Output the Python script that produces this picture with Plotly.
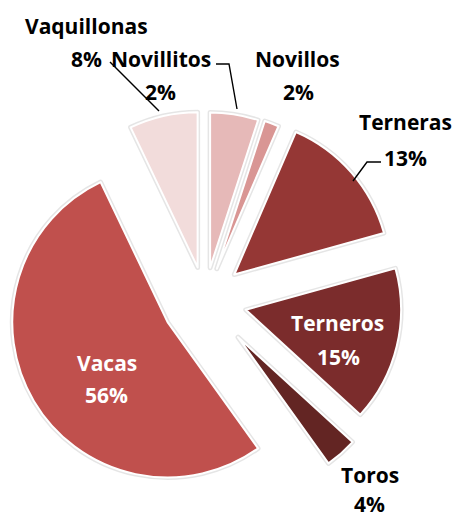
import plotly.graph_objects as go

# ---- data ----
categories = ["Novillitos", "Novillos", "Terneras", "Terneros", "Toros", "Vacas", "Vaquillonas"]
# slice shares as drawn
shares = [5.0, 1.5, 14.2, 16.1, 3.3, 52.8, 7.1]
# percentage labels printed on the chart
pct_labels = ["2%", "2%", "13%", "15%", "4%", "56%", "8%"]

# ---- styling ----
colors = ["#E6B9B8", "#D99694", "#953735", "#7B2C2C", "#632523", "#C0504D", "#F2DCDB"]
pulls = [0.21, 0.215, 0.25, 0.27, 0.32, 0.28, 0.215]

W, H = 456, 517


def px(x):
    return x / W


def py(y):
    return 1 - y / H


dom = dict(x=[0, 410 / W], y=[1 - 515 / H, 1 - 85 / H])

common = dict(
    labels=categories, values=shares, sort=False, direction="clockwise",
    rotation=0, pull=pulls, textinfo="none", hoverinfo="skip",
    showlegend=False, domain=dom,
)

fig = go.Figure()
# soft shadow outline behind the slices
fig.add_trace(go.Pie(marker=dict(colors=colors, line=dict(color="rgba(0,0,0,0.10)", width=5)), **common))
fig.add_trace(go.Pie(marker=dict(colors=colors, line=dict(color="white", width=2)), **common))

# label placement (pixel centres of name line and percent line)
label_pos = {
    "Vaquillonas": ((86, 26), (86, 59)),
    "Novillitos": ((161, 59), (160, 92)),
    "Novillos": ((297, 59), (298, 92)),
    "Terneras": ((405, 122), (405, 158)),
    "Terneros": ((337, 323), (338, 357)),
    "Toros": ((370, 475), (369, 504)),
    "Vacas": ((107, 363), (106, 395)),
}
inside = {"Terneros", "Vacas"}
font_family = "Open Sans"
annotations = []
for cat, pct in zip(categories, pct_labels):
    (nx, ny), (vx, vy) = label_pos[cat]
    col = "white" if cat in inside else "black"
    for txt, (x, y) in ((cat, (nx, ny)), (pct, (vx, vy))):
        annotations.append(
            dict(
                text=txt, x=px(x), y=py(y), xref="paper", yref="paper",
                xanchor="center", yanchor="middle", showarrow=False,
                font=dict(family=font_family, size=21, color=col, weight="bold"),
            )
        )


# leader lines
def path(points):
    return "M " + " L ".join(f"{px(x)},{py(y)}" for x, y in points)


leaders = [
    [(110, 62), (159, 111)],
    [(216, 64), (229, 64), (237, 109)],
    [(381, 162), (367, 162), (353, 181)],
]
shapes = [
    dict(type="path", path=path(p), xref="paper", yref="paper",
         line=dict(color="black", width=1.4))
    for p in leaders
]

fig.update_layout(
    width=W, height=H,
    margin=dict(l=0, r=0, t=0, b=0),
    paper_bgcolor="white", plot_bgcolor="white",
    annotations=annotations, shapes=shapes,
)

fig.write_html(
    "out.html",
    config={"displayModeBar": False},
    post_script="document.body.style.margin='0';",
)
